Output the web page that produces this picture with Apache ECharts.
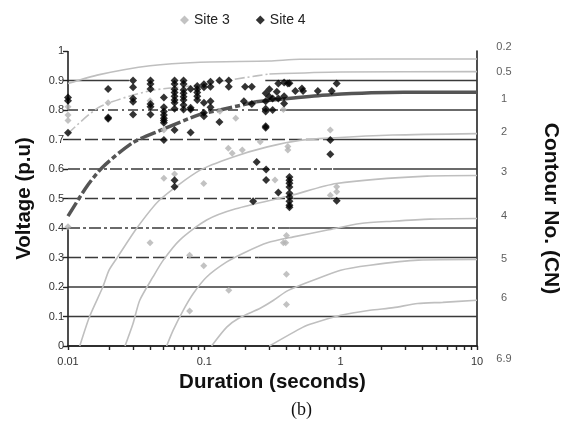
<!DOCTYPE html>
<html>
<head>
<meta charset="utf-8">
<script src="https://cdn.jsdelivr.net/npm/echarts@6/dist/echarts.min.js"></script>
<style>
html,body{margin:0;padding:0;background:#fff;}
#main{width:570px;height:424px;}
</style>
</head>
<body>
<div id="main"></div>
<script>
// ---------- DATA ----------
const xTickLabels = ['0.01', '0.1', '1', '10'];
const yTickLabels = ['0', '0.1', '0.2', '0.3', '0.4', '0.5', '0.6', '0.7', '0.8', '0.9', '1'];

const seriesNames = ['Site 3', 'Site 4'];

// Site 3 [duration (s), voltage (p.u)]
const site3 = [
  [0.01,0.811],[0.01,0.783],[0.01,0.764],[0.01,0.404],
  [0.0197,0.825],[0.04,0.831],[0.04,0.35],
  [0.0505,0.732],[0.0505,0.569],[0.0605,0.583],
  [0.078,0.308],[0.078,0.119],[0.099,0.551],[0.099,0.272],
  [0.13,0.796],[0.17,0.772],[0.15,0.67],[0.16,0.653],[0.19,0.664],[0.151,0.189],
  [0.257,0.692],[0.41,0.676],[0.41,0.664],[0.38,0.802],[0.33,0.563],
  [0.38,0.35],[0.40,0.375],[0.395,0.35],[0.40,0.243],[0.40,0.141],
  [0.84,0.732],[0.84,0.511],[0.935,0.54],[0.935,0.523]
];

// Site 4 [duration (s), voltage (p.u)]
const site4 = [
  [0.01,0.842],[0.01,0.831],[0.01,0.723],
  [0.0197,0.871],[0.0197,0.775],[0.0197,0.770],
  [0.030,0.90],[0.030,0.877],[0.030,0.839],[0.030,0.828],[0.030,0.785],
  [0.0403,0.90],[0.0403,0.888],[0.0403,0.871],[0.0403,0.82],[0.0403,0.811],[0.0403,0.785],
  [0.0505,0.842],[0.0505,0.809],[0.0505,0.795],[0.0505,0.783],[0.0505,0.772],[0.0505,0.764],[0.0505,0.757],[0.0505,0.698],
  [0.0605,0.90],[0.0605,0.888],[0.0605,0.87],[0.0605,0.859],[0.0605,0.847],[0.0605,0.834],[0.0605,0.825],[0.0605,0.804],[0.0605,0.732],[0.0605,0.562],[0.0605,0.54],
  [0.0704,0.90],[0.0704,0.888],[0.0704,0.868],[0.0704,0.857],[0.0704,0.845],[0.0704,0.834],[0.0704,0.817],[0.0704,0.802],
  [0.0793,0.871],[0.0793,0.808],[0.0793,0.802],[0.0793,0.724],
  [0.0887,0.881],[0.0887,0.87],[0.0887,0.859],[0.0887,0.847],[0.0887,0.834],
  [0.0993,0.887],[0.0993,0.877],[0.0993,0.825],[0.0993,0.791],[0.0993,0.779],
  [0.111,0.896],[0.111,0.879],[0.111,0.830],[0.111,0.809],
  [0.129,0.90],[0.129,0.759],[0.151,0.90],[0.151,0.879],
  [0.195,0.830],[0.199,0.879],[0.223,0.879],[0.223,0.82],[0.228,0.491],[0.242,0.624],
  [0.282,0.857],[0.282,0.830],[0.282,0.804],[0.282,0.795],[0.282,0.745],[0.282,0.74],[0.284,0.598],[0.284,0.563],
  [0.30,0.87],[0.30,0.845],[0.317,0.839],[0.317,0.80],
  [0.34,0.862],[0.349,0.839],[0.349,0.89],[0.349,0.52],
  [0.385,0.893],[0.385,0.847],[0.385,0.822],[0.41,0.89],
  [0.421,0.891],[0.421,0.573],[0.421,0.562],[0.421,0.552],[0.421,0.539],[0.421,0.518],[0.421,0.505],[0.421,0.491],[0.421,0.477],[0.421,0.47],
  [0.465,0.864],[0.52,0.873],[0.53,0.864],[0.68,0.864],
  [0.84,0.698],[0.84,0.65],[0.86,0.864],[0.935,0.89],[0.935,0.492]
];

// Contour curves [duration (s), voltage (p.u)]
const cn02 = [[0.01,0.89],[0.017,0.92],[0.04,0.95],[0.093,0.962],[0.3,0.966],[0.5,0.972],[10,0.973]];
const cn05 = [[0.01,0.72],[0.017,0.81],[0.04,0.865],[0.093,0.885],[0.2,0.91],[0.3,0.922],[1,0.929],[10,0.93]];
const cn1  = [[0.01,0.44],[0.0137,0.54],[0.018,0.607],[0.03,0.69],[0.047,0.73],[0.093,0.785],[0.13,0.80],[0.24,0.828],[0.43,0.84],[0.84,0.852],[2.9,0.86],[10,0.86]];
const cn2  = [[0.0122,0],[0.0144,0.1],[0.018,0.2],[0.02,0.257],[0.023,0.30],[0.032,0.40],[0.047,0.495],[0.093,0.596],[0.163,0.641],[0.29,0.675],[0.5,0.697],[0.84,0.705],[2.4,0.715],[10,0.72]];
const cn3  = [[0.0262,0],[0.03,0.076],[0.0336,0.155],[0.042,0.234],[0.05,0.291],[0.066,0.359],[0.104,0.427],[0.17,0.465],[0.43,0.51],[0.93,0.551],[4.3,0.576],[10,0.578]];
const cn4  = [[0.0529,0],[0.059,0.053],[0.07,0.121],[0.083,0.178],[0.104,0.234],[0.146,0.285],[0.2,0.318],[0.29,0.35],[0.45,0.37],[0.8,0.393],[1.4,0.415],[2.4,0.423],[4.5,0.43],[10,0.432]];
const cn5  = [[0.113,0],[0.146,0.064],[0.18,0.095],[0.257,0.128],[0.322,0.155],[0.40,0.185],[0.5,0.205],[1.0,0.257],[1.64,0.274],[3.7,0.291],[10,0.293]];
const cn6  = [[0.30,0],[0.53,0.064],[0.63,0.077],[1.0,0.104],[1.64,0.121],[2.44,0.13],[3.67,0.144],[5.6,0.148],[10,0.155]];

// Right-hand contour labels
const cnLabels = ['0.2', '0.5', '1', '2', '3', '4', '5', '6', '6.9'];
const cnLabelV = [1.013, 0.929, 0.837, 0.725, 0.589, 0.442, 0.294, 0.162, -0.045];

// Horizontal voltage lines: [level, from duration, to duration]
const gridSolidSegs = [[0.1,0.01,10],[0.2,0.01,10],[0.3,0.25,10],[0.4,0.42,10],[0.5,0.45,10],[0.6,0.88,10],[0.7,0.84,10],[0.8,0.36,10],[0.9,0.28,10],[0.9,0.01,0.028]];
const gridDashSegs  = [[0.3,0.01,0.25],[0.4,0.01,0.42],[0.5,0.01,0.45],[0.6,0.01,0.88],[0.7,0.01,0.84],[0.8,0.01,0.36]];
// Left border pieces (voltage ranges)
const leftBorderSegs = [[1,0.8],[0.4,0]];

// ---------- CHART ----------
const FONT = '"Liberation Sans", Arial, sans-serif';
const xMin = 0.01, xMax = 10;
const dashFor = function (lvl) {
  const k = Math.round(lvl * 10);
  if (k === 4 || k === 6) return [12, 3, 3, 3];
  if (k === 8) return [10, 4, 2, 4];
  return [13, 4];
};
// split a curve into a dashed left part and a solid right part sharing one point
const SPLIT_AT = 0.24;
const splitIndex = function (c) {
  for (let i = 0; i < c.length; i++) { if (c[i][0] >= SPLIT_AT) return i; }
  return c.length - 1;
};
const leftPart = function (c) { return c.slice(0, splitIndex(c) + 1); };
const rightPart = function (c) { return c.slice(splitIndex(c)); };

const series = [];
gridSolidSegs.forEach(function (s) {
  series.push({
    type: 'line', silent: true, symbol: 'none', z: 1, animation: false,
    lineStyle: { color: '#3a3a3a', width: 1.6 },
    data: [[s[1], s[0]], [s[2], s[0]]]
  });
});
gridDashSegs.forEach(function (s) {
  series.push({
    type: 'line', silent: true, symbol: 'none', z: 1, animation: false,
    lineStyle: { color: '#3a3a3a', width: 1.6, type: dashFor(s[0]) },
    data: [[s[1], s[0]], [s[2], s[0]]]
  });
});
leftBorderSegs.forEach(function (s) {
  series.push({
    type: 'line', silent: true, symbol: 'none', z: 1, animation: false,
    lineStyle: { color: '#222', width: 1.6 },
    data: [[xMin, s[0]], [xMin, s[1]]]
  });
});

[cn02, cn2, cn3, cn4, cn5, cn6].forEach(function (c) {
  series.push({
    type: 'line', silent: true, symbol: 'none', z: 2, animation: false,
    smooth: 0.25,
    lineStyle: { color: '#bfbfbf', width: 1.6 },
    data: c
  });
});
// CN 0.5: dash-dot left, solid right
series.push({
  type: 'line', silent: true, symbol: 'none', z: 2, animation: false, smooth: 0.25,
  lineStyle: { color: '#bfbfbf', width: 1.6, type: [10, 3, 2, 3] }, data: leftPart(cn05)
});
series.push({
  type: 'line', silent: true, symbol: 'none', z: 2, animation: false, smooth: 0.25,
  lineStyle: { color: '#bfbfbf', width: 1.6 }, data: rightPart(cn05)
});
// CN 1: thick, dashed left, solid right
series.push({
  type: 'line', silent: true, symbol: 'none', z: 3, animation: false, smooth: 0.25,
  lineStyle: { color: '#555555', width: 3.5, type: [16, 3, 5, 3] }, data: leftPart(cn1)
});
series.push({
  type: 'line', silent: true, symbol: 'none', z: 3, animation: false, smooth: 0.25,
  lineStyle: { color: '#555555', width: 3.5 }, data: rightPart(cn1)
});

series.push({
  name: seriesNames[0], type: 'scatter', symbol: 'diamond', symbolSize: 7, z: 5,
  itemStyle: { color: '#b3b3b3' }, data: site3, animation: false
});
series.push({
  name: seriesNames[1], type: 'scatter', symbol: 'diamond', symbolSize: 8, z: 6,
  itemStyle: { color: '#000000' }, data: site4, animation: false
});

series.push({
  type: 'scatter', silent: true, symbolSize: 0, clip: false, animation: false,
  data: cnLabels.map(function (t, i) { return { name: t, value: [xMax, cnLabelV[i]] }; }),
  label: {
    show: true, position: 'inside', offset: [27, 0], align: 'center',
    formatter: '{b}', color: '#333', fontSize: 11, fontFamily: FONT
  }
});

const chart = echarts.init(document.getElementById('main'), null, { renderer: 'canvas' });
chart.setOption({
  backgroundColor: '#ffffff',
  animation: false,
  title: {
    text: '(b)', left: 286, top: 396,
    textStyle: { fontFamily: '"Liberation Serif", "Times New Roman", serif', fontWeight: 'normal', fontSize: 18, color: '#111' }
  },
  legend: {
    data: seriesNames, top: 8, left: 175, itemGap: 26, itemWidth: 9, itemHeight: 9,
    textStyle: { fontFamily: FONT, fontSize: 14, color: '#222' }
  },
  grid: { left: 68, right: 93, top: 51, bottom: 78 },
  xAxis: [{
    type: 'log', logBase: 10, min: xMin, max: xMax,
    name: 'Duration (seconds)', nameLocation: 'middle', nameGap: 24,
    nameTextStyle: { fontFamily: FONT, fontSize: 20.5, fontWeight: 'bold', color: '#111' },
    axisLine: { show: true, lineStyle: { color: '#222', width: 1.6 } },
    axisTick: { show: true, length: 4, lineStyle: { color: '#222', width: 1.4 } },
    minorTick: { show: true, splitNumber: 9, length: 4, lineStyle: { color: '#222', width: 1.4 } },
    axisLabel: {
      margin: 10, fontFamily: FONT, fontSize: 11, color: '#333',
      formatter: function (v) { const i = Math.round(Math.log10(v)) + 2; return xTickLabels[i] !== undefined ? xTickLabels[i] : ''; }
    },
    splitLine: { show: false }
  }, {
    type: 'log', logBase: 10, min: xMin, max: xMax, position: 'top',
    axisLine: { show: true, lineStyle: { color: '#222', width: 1.6 } },
    axisTick: { show: false }, axisLabel: { show: false }, splitLine: { show: false }
  }],
  yAxis: [{
    type: 'value', min: 0, max: 1, interval: 0.1,
    name: 'Voltage (p.u)', nameLocation: 'middle', nameGap: 33,
    nameTextStyle: { fontFamily: FONT, fontSize: 20.5, fontWeight: 'bold', color: '#111' },
    axisLine: { show: false },
    axisTick: { show: true, length: 5, lineStyle: { color: '#222', width: 1.4 } },
    axisLabel: {
      margin: 4, fontFamily: FONT, fontSize: 11, color: '#333',
      formatter: function (v) { const i = Math.round(v * 10); return yTickLabels[i]; }
    },
    splitLine: { show: false }
  }, {
    type: 'value', min: 0, max: 1, position: 'right',
    name: 'Contour No. (CN)', nameLocation: 'middle', nameGap: 63, nameRotate: -90,
    nameTextStyle: { fontFamily: FONT, fontSize: 21, fontWeight: 'bold', color: '#111', padding: [0, 0, 0, 20] },
    axisLine: { show: true, lineStyle: { color: '#222', width: 1.6 } },
    axisTick: { show: false }, axisLabel: { show: false }, splitLine: { show: false }
  }],
  series: series
});
</script>
</body>
</html>
